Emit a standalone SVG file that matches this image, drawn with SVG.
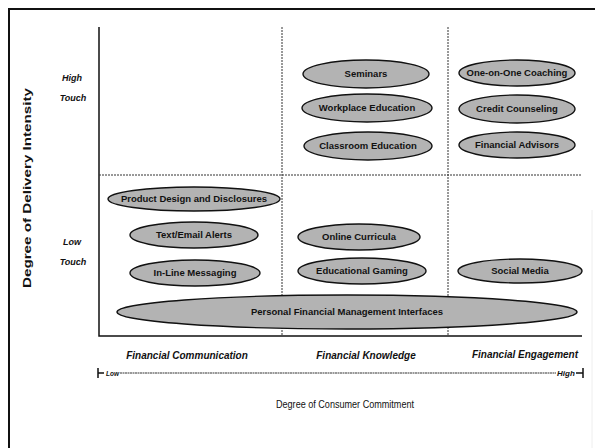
<svg xmlns="http://www.w3.org/2000/svg" width="595" height="448" viewBox="0 0 595 448">
<style>
.frame{stroke:#111;stroke-width:2;fill:none}
.axis{stroke:#111;stroke-width:1.5;fill:none}
.dash{stroke:#333;stroke-width:1;stroke-dasharray:2 1;fill:none}
.node ellipse{fill:#b3b3b3;stroke:#111;stroke-width:1.4}
.node text{font-family:"Liberation Sans",Arial,sans-serif;font-weight:bold;font-size:9.5px;fill:#111;text-anchor:middle}
.lbl{font-family:"Liberation Sans",Arial,sans-serif;font-weight:bold;font-style:italic;font-size:9px;fill:#111;text-anchor:middle}
.col{font-size:10px}
.title{font-family:"Liberation Sans",Arial,sans-serif;font-size:11px;fill:#111;text-anchor:middle}
</style>
<rect width="595" height="448" fill="#fff"/>
<path class="frame" d="M9,448 V9 H595"/>
<line x1="592" y1="210" x2="592" y2="448" stroke="#eee" stroke-width="1"/>

<g id="grid">
<path class="axis" d="M99,27 V336 H582"/>
<line class="dash" x1="282" y1="27" x2="282" y2="336"/>
<line class="dash" x1="448" y1="27" x2="448" y2="336"/>
<line class="dash" x1="99" y1="175" x2="582" y2="175"/>
</g>

<g id="seminars" class="node"><ellipse cx="366" cy="74" rx="63" ry="14"/><text x="366" y="77">Seminars</text></g>
<g id="workplace" class="node"><ellipse cx="367" cy="108" rx="65" ry="14"/><text x="367" y="111">Workplace Education</text></g>
<g id="classroom" class="node"><ellipse cx="368" cy="146" rx="64" ry="14"/><text x="368" y="149">Classroom Education</text></g>
<g id="coaching" class="node"><ellipse cx="517" cy="73" rx="58" ry="13"/><text x="517" y="76">One-on-One Coaching</text></g>
<g id="counseling" class="node"><ellipse cx="517" cy="109" rx="58" ry="14"/><text x="517" y="112">Credit Counseling</text></g>
<g id="advisors" class="node"><ellipse cx="517" cy="145" rx="58" ry="13"/><text x="517" y="148">Financial Advisors</text></g>

<g id="product" class="node"><ellipse cx="194" cy="199" rx="86" ry="12"/><text x="194" y="202">Product Design and Disclosures</text></g>
<g id="alerts" class="node"><ellipse cx="194" cy="235" rx="64" ry="13"/><text x="194" y="238">Text/Email Alerts</text></g>
<g id="inline" class="node"><ellipse cx="195" cy="273" rx="65" ry="13"/><text x="195" y="276">In-Line Messaging</text></g>
<g id="curricula" class="node"><ellipse cx="359" cy="237" rx="61" ry="13"/><text x="359" y="240">Online Curricula</text></g>
<g id="gaming" class="node"><ellipse cx="362" cy="271" rx="64" ry="13"/><text x="362" y="274">Educational Gaming</text></g>
<g id="social" class="node"><ellipse cx="520" cy="271" rx="62" ry="12"/><text x="520" y="274">Social Media</text></g>
<g id="pfmi" class="node"><ellipse cx="347" cy="312" rx="230" ry="17"/><text x="347" y="315" font-size="10">Personal Financial Management Interfaces</text></g>

<g id="ylabels">
<text class="lbl" x="72" y="81">High</text>
<text class="lbl" x="73" y="101">Touch</text>
<text class="lbl" x="72" y="245">Low</text>
<text class="lbl" x="73" y="265">Touch</text>
<text class="title" transform="translate(31,188) rotate(-90)" font-weight="bold" textLength="200" lengthAdjust="spacingAndGlyphs">Degree of Delivery Intensity</text>
</g>

<g id="xlabels">
<text class="lbl col" x="187" y="359">Financial Communication</text>
<text class="lbl col" x="366" y="359">Financial Knowledge</text>
<text class="lbl col" x="525" y="358">Financial Engagement</text>
</g>

<g id="commitment-axis">
<path class="axis" stroke-width="1" d="M98,368 V378 M98,373 H104"/>
<text x="106" y="376" font-family="Liberation Sans,Arial,sans-serif" font-size="6.5" font-weight="bold" font-style="italic" fill="#111">Low</text>
<line x1="120" y1="373" x2="556" y2="373" stroke="#333" stroke-width="1" stroke-dasharray="2 0.5"/>
<text x="557" y="376" font-family="Liberation Sans,Arial,sans-serif" font-size="8" font-weight="bold" font-style="italic" fill="#111">High</text>
<path class="axis" stroke-width="1" d="M576,373 H583 M583,368 V378"/>
<text class="title" x="345" y="408" textLength="138" lengthAdjust="spacingAndGlyphs">Degree of Consumer Commitment</text>
</g>
</svg>
